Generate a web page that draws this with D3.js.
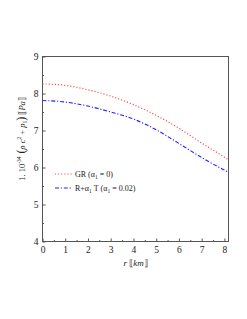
<html>
<head>
<style>
  body { margin: 0; background: #fff; }
  text { fill: #222; }
  .frame { fill: none; stroke: #555; stroke-width: 1; }
  .gr { fill: none; stroke: #f44; stroke-width: 1.2; stroke-dasharray: 1.1,2; }
  .rt { fill: none; stroke: #22f; stroke-width: 1.1; stroke-dasharray: 4,1.8,1.2,1.8; }
</style>
<script src="https://d3js.org/d3.v7.min.js"></script>
</head>
<body>
<svg width="247" height="319"></svg>
<script>
const rValues = [0, 1, 2, 3, 4, 5, 6, 7, 8, 8.2];
const grValues = [8.26, 8.22, 8.10, 7.93, 7.70, 7.41, 7.06, 6.66, 6.28, 6.20];
const rtValues = [7.81, 7.77, 7.66, 7.50, 7.31, 7.02, 6.65, 6.27, 5.93, 5.87];
const xTicks = [0, 1, 2, 3, 4, 5, 6, 7, 8];
const yTicks = [4, 5, 6, 7, 8, 9];

const serif = "'Liberation Serif', 'DejaVu Serif', serif";
const svg = d3.select("svg");
const mLeft = 42.5, mRight = 228.5, mTop = 56.5, mBottom = 241.5;

const xs = d3.scaleLinear().domain([0, 8.18]).range([mLeft, mRight]);
const ys = d3.scaleLinear().domain([4, 9]).range([mBottom, mTop]);

// frame
svg.append("rect").attr("class", "frame")
  .attr("x", mLeft).attr("y", mTop)
  .attr("width", mRight - mLeft).attr("height", mBottom - mTop);

// minor ticks
const xMinor = d3.range(0, 8.2, 0.5).filter(v => v % 1 != 0);
const yMinor = d3.range(4, 9, 0.5).filter(v => v % 1 != 0);

const gx = svg.append("g").attr("transform", "translate(0," + mBottom + ")")
  .call(d3.axisTop(xs).tickValues(xTicks).tickSize(3).tickFormat(d3.format("d")))
  .attr("font-family", serif).attr("font-size", 9.5);
gx.select(".domain").remove();
gx.selectAll(".tick line").attr("stroke", "#555");
gx.selectAll(".tick text").attr("y", 5).attr("dy", "0.71em").attr("fill", "#222");
svg.append("g").attr("transform", "translate(0," + mBottom + ")")
  .call(d3.axisTop(xs).tickValues(xMinor).tickSize(1.5).tickFormat(""))
  .call(g => g.select(".domain").remove())
  .selectAll("line").attr("stroke", "#555");

const gy = svg.append("g").attr("transform", "translate(" + mLeft + ",0)")
  .call(d3.axisRight(ys).tickValues(yTicks).tickSize(3).tickFormat(d3.format("d")))
  .attr("font-family", serif).attr("font-size", 9.5);
gy.select(".domain").remove();
gy.selectAll(".tick line").attr("stroke", "#555");
gy.selectAll(".tick text").attr("x", -4).attr("text-anchor", "end").attr("fill", "#222");
svg.append("g").attr("transform", "translate(" + mLeft + ",0)")
  .call(d3.axisRight(ys).tickValues(yMinor).tickSize(1.5).tickFormat(""))
  .call(g => g.select(".domain").remove())
  .selectAll("line").attr("stroke", "#555");

// curves
const line = d3.line().curve(d3.curveMonotoneX)
  .x((d, i) => xs(rValues[i])).y(d => ys(d));
svg.append("path").attr("class", "gr").attr("d", line(grValues));
svg.append("path").attr("class", "rt").attr("d", line(rtValues));

// axis labels
const xl = svg.append("text").attr("x", xs(4.1)).attr("y", mBottom + 24)
  .attr("text-anchor", "middle").style("font-size", "9px");
xl.append("tspan").style("font-style", "italic").text("r ");
xl.append("tspan").text("⟦");
xl.append("tspan").style("font-style", "italic").text("km");
xl.append("tspan").text("⟧");

const yl = svg.append("text")
  .attr("transform", "translate(25,139) rotate(-90)")
  .attr("text-anchor", "middle").style("font-size", "8.5px");
yl.append("tspan").text("1. 10");
yl.append("tspan").attr("dy", -4).style("font-size", "5.5px").text("-34");
yl.append("tspan").attr("dy", 4).style("font-size", "12px").text(" (");
yl.append("tspan").style("font-style", "italic").text("ρ c");
yl.append("tspan").attr("dy", -4).style("font-size", "5.5px").text("2");
yl.append("tspan").attr("dy", 4).text(" + ");
yl.append("tspan").style("font-style", "italic").text("p");
yl.append("tspan").attr("dy", 2).style("font-size", "5.5px").text("1");
yl.append("tspan").attr("dy", -2).style("font-size", "12px").text(")");
yl.append("tspan").text(" ⟦");
yl.append("tspan").style("font-style", "italic").text("Pa");
yl.append("tspan").text("⟧");

// legend
const legend = [
  { cls: "gr", y: 174, parts: [["GR (α", 0], ["1", 1], [" = 0)", 0]] },
  { cls: "rt", y: 188, parts: [["R+α", 0], ["1", 1], [" T (α", 0], ["1", 1], [" = 0.02)", 0]] }
];
legend.forEach(l => {
  svg.append("line").attr("class", l.cls)
    .attr("x1", 55).attr("x2", 72).attr("y1", l.y).attr("y2", l.y);
  const t = svg.append("text").attr("x", 75).attr("y", l.y + 3).style("font-size", "8px");
  let sub = 0;
  l.parts.forEach(p => {
    const dy = p[1] ? 2 : (sub ? -2 : 0);
    sub = p[1];
    t.append("tspan").attr("dy", dy).style("font-size", p[1] ? "5.5px" : "8px").text(p[0]);
  });
});

svg.selectAll("text").style("font-family", serif);
</script>
</body>
</html>
